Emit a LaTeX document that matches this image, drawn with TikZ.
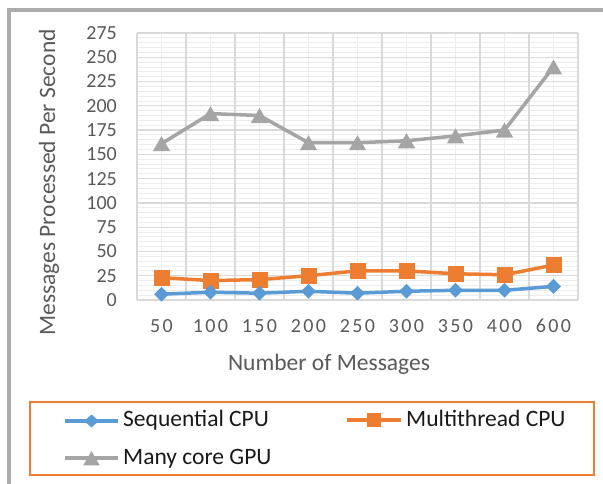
\documentclass[tikz,border=0pt]{standalone}
\usepackage{fontspec}
\setmainfont{Carlito}
\usetikzlibrary{shapes.geometric,calc}

\definecolor{seqblue}{HTML}{5B9BD5}
\definecolor{mtorange}{HTML}{ED7D31}
\definecolor{gpugray}{HTML}{A5A5A5}
\definecolor{framegray}{HTML}{ADABAB}
\definecolor{gridmajor}{HTML}{D9D9D9}
\definecolor{gridminor}{HTML}{EDEDED}
\definecolor{axistext}{HTML}{595959}

\tikzset{
  ticklabel/.style={font=\fontsize{20pt}{24pt}\selectfont, text=axistext, inner sep=0pt},
  titlelabel/.style={font=\fontsize{23.5pt}{28pt}\selectfont, text=axistext, inner sep=0pt},
  legendlabel/.style={font=\fontsize{23.5pt}{28pt}\selectfont, text=black!90, inner sep=0pt, anchor=base west},
  seqline/.style={draw=seqblue, line width=3.5pt, line join=round, line cap=round},
  mtline/.style={draw=mtorange, line width=3.5pt, line join=round, line cap=round},
  gpuline/.style={draw=gpugray, line width=3.5pt, line join=round, line cap=round},
  seqmark/.style={diamond, fill=seqblue, inner sep=0pt, minimum width=15pt, minimum height=15pt},
  mtmark/.style={rectangle, fill=mtorange, inner sep=0pt, minimum size=16pt},
  % triangles are centred on their bounding box, not on their circumcentre
  gpumark/.style={regular polygon, regular polygon sides=3, fill=gpugray, inner sep=0pt, minimum size=20pt, yshift=-2.5pt},
}

% letter spacing used in the x-axis numbers
\newcommand\ks{\kern2.4pt\relax}

% value -> vertical position (value 0 at 300, value 275 at 33)
\def\vscale{0.970909}

\begin{document}
\begin{tikzpicture}[x=1pt, y=-1pt]
  \useasboundingbox (0,0) rectangle (603,484);

  % chart frame (only top and left edges fall inside the page)
  \coordinate (frameTL) at (9,10);
  \coordinate (frameTR) at (603,10);
  \coordinate (frameBL) at (9,484);
  \draw[framegray, line width=4pt] (frameBL) -- (frameTL) -- (frameTR);

  % plot area: x from 137 to 578, y from 300 (value 0) to 33 (value 275)
  \def\xl{137}\def\xr{578}\def\yb{300}\def\yt{33}
  \def\cw{49}

  % minor grid
  \foreach \v in {5,10,...,270} {
    \pgfmathsetmacro\yy{\yb-\v*\vscale}
    \draw[gridminor, line width=0.9pt] (\xl,\yy) -- (\xr,\yy);
  }
  \foreach \i in {0,...,8} {
    \pgfmathsetmacro\xx{\xl+\cw*(\i+0.5)}
    \draw[gridminor, line width=1pt] (\xx,\yt) -- (\xx,\yb);
  }
  % major grid
  \foreach \v in {0,25,...,275} {
    \pgfmathsetmacro\yy{\yb-\v*\vscale}
    \draw[gridmajor, line width=1.3pt] (\xl,\yy) -- (\xr,\yy);
    \node[ticklabel, anchor=east] (ytick\v) at (117,\yy) {\v};
  }
  \foreach \i in {0,...,9} {
    \pgfmathsetmacro\xx{\xl+\cw*\i}
    \draw[gridmajor, line width=1.3pt] (\xx,\yt) -- (\xx,\yb);
  }

  % category labels
  \foreach \digits [count=\i from 0] in {{5\ks0},{1\ks0\ks0},{1\ks5\ks0},{2\ks0\ks0},{2\ks5\ks0},{3\ks0\ks0},{3\ks5\ks0},{4\ks0\ks0},{6\ks0\ks0}} {
    \pgfmathsetmacro\xx{\xl+\cw*(\i+0.5)}
    \node[ticklabel] (xtick\i) at (\xx,326) {\digits};
  }

  % data points
  \foreach \s/\m/\g [count=\i from 0] in {6/23/161, 8/20/192, 7/21/190, 9/25/162, 7/30/162, 9/30/164, 10/27/169, 10/26/175, 14/36/240} {
    \pgfmathsetmacro\xx{\xl+\cw*(\i+0.5)}
    \pgfmathsetmacro\ys{\yb-\s*\vscale}
    \pgfmathsetmacro\ym{\yb-\m*\vscale}
    \pgfmathsetmacro\yg{\yb-\g*\vscale}
    \coordinate (s\i) at (\xx,\ys);
    \coordinate (m\i) at (\xx,\ym);
    \coordinate (g\i) at (\xx,\yg);
  }

  % series lines
  \draw[gpuline] (g0) -- (g1) -- (g2) -- (g3) -- (g4) -- (g5) -- (g6) -- (g7) -- (g8);
  \draw[mtline] (m0) -- (m1) -- (m2) -- (m3) -- (m4) -- (m5) -- (m6) -- (m7) -- (m8);
  \draw[seqline] (s0) -- (s1) -- (s2) -- (s3) -- (s4) -- (s5) -- (s6) -- (s7) -- (s8);

  % series markers
  \foreach \i in {0,...,8} {
    \node[gpumark] (gm\i) at (g\i) {};
    \node[mtmark] (mm\i) at (m\i) {};
    \node[seqmark] (sm\i) at (s\i) {};
  }

  % axis titles
  \node[titlelabel, anchor=base] (xtitle) at (329,370) {Number of Messages};
  \node[titlelabel, anchor=base, rotate=90] (ytitle) at (55,182.5) {Messages Processed Per Second};

  % legend
  \draw[mtorange, line width=2pt] (30,402) rectangle (594,475);

  \coordinate (lsA) at (65,421);  \coordinate (lsB) at (118,421);
  \coordinate (lmA) at (347,420); \coordinate (lmB) at (401,420);
  \coordinate (lgA) at (65,458);  \coordinate (lgB) at (118,458);

  \draw[seqline, line cap=butt, line width=4pt] (lsA) -- (lsB);
  \node[seqmark, minimum width=15pt, minimum height=13pt] (lsmark) at ($(lsA)!0.5!(lsB)$) {};
  \node[legendlabel] (lstext) at (123,426.5) {Sequential CPU};

  \draw[mtline, line cap=butt, line width=4pt] (lmA) -- (lmB);
  \node[mtmark, minimum size=14pt] (lmmark) at ($(lmA)!0.5!(lmB)$) {};
  \node[legendlabel] (lmtext) at (406,426.5) {Multithread CPU};

  \draw[gpuline, line cap=butt, line width=4pt] (lgA) -- (lgB);
  \node[gpumark, minimum size=19pt] (lgmark) at ($(lgA)!0.5!(lgB)$) {};
  \node[legendlabel] (lgtext) at (123,464) {Many core GPU};
\end{tikzpicture}
\end{document}
